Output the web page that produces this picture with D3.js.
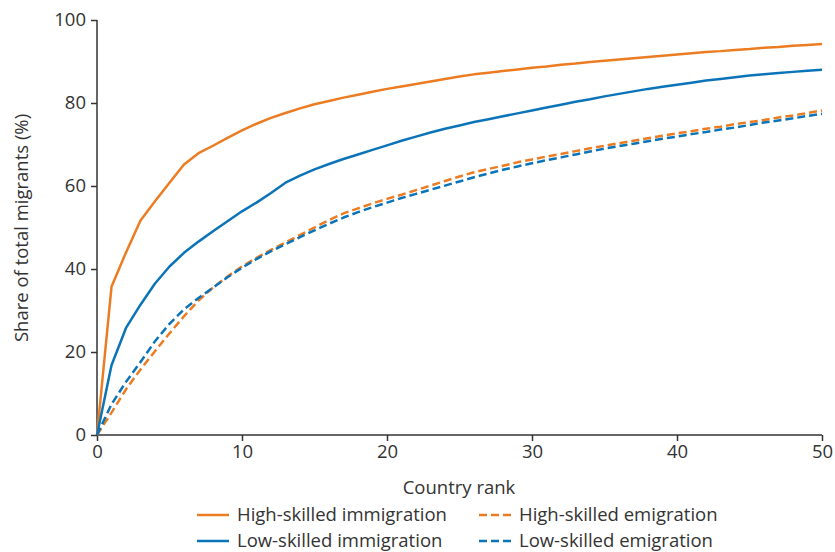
<!DOCTYPE html>
<html><head><meta charset="utf-8">
<script src="https://cdn.jsdelivr.net/npm/d3@7"></script>
<style>body{margin:0;background:#fff}svg{display:block}text{font-family:"Open Sans",sans-serif;fill:#333}</style>
</head><body><svg id="c" width="835" height="552"></svg>
<script>
const ranks = d3.range(0, 51);
const highImm = [0,35.7,44,51.7,56.3,60.8,65.2,67.9,69.7,71.6,73.4,75,76.4,77.6,78.7,79.7,80.5,81.3,82,82.7,83.4,84,84.6,85.2,85.8,86.4,86.9,87.3,87.7,88.1,88.5,88.8,89.2,89.5,89.9,90.2,90.5,90.8,91.1,91.4,91.7,92,92.3,92.5,92.8,93,93.3,93.5,93.8,94,94.2];
const lowImm = [0,16.8,25.8,31.4,36.5,40.6,43.9,46.6,49.1,51.5,53.9,56,58.3,60.8,62.5,64,65.3,66.5,67.6,68.7,69.8,70.9,71.9,72.9,73.8,74.6,75.4,76.1,76.8,77.5,78.2,78.9,79.6,80.3,80.9,81.6,82.2,82.8,83.4,83.9,84.4,84.9,85.4,85.8,86.2,86.6,86.9,87.2,87.5,87.8,88];
const highEmi = [0,5.4,11,15.8,20.2,24.5,28.6,32.4,35.5,38.2,40.6,42.7,44.6,46.4,48.2,50,51.8,53.4,54.6,55.8,56.9,57.9,59,60.1,61.2,62.3,63.3,64.1,64.9,65.7,66.4,67.1,67.7,68.4,69.1,69.7,70.3,70.9,71.5,72.1,72.7,73.2,73.8,74.3,74.9,75.4,75.9,76.5,77,77.6,78.2];
const lowEmi = [0,7.4,12.8,17.6,22.6,26.8,30.3,33,35.5,38,40.3,42.4,44.3,46,47.7,49.3,50.9,52.4,53.7,54.9,56,57.1,58.1,59.1,60.1,61.1,62.1,63,63.9,64.7,65.5,66.2,66.9,67.6,68.3,69,69.6,70.2,70.8,71.4,71.9,72.5,73,73.6,74.1,74.7,75.3,75.8,76.3,76.9,77.4];
const xTicks = [0,10,20,30,40,50];
const yTicks = [0,20,40,60,80,100];
const seriesNames = ["High-skilled immigration","High-skilled emigration","Low-skilled immigration","Low-skilled emigration"];

const ORANGE = "#EC7C22", BLUE = "#0B74B8";
const FONT = "Open Sans, sans-serif";
const FS = 18.5;
const series = [
  {name: seriesNames[0], values: highImm, color: ORANGE, dash: null},
  {name: seriesNames[2], values: lowImm, color: BLUE, dash: null},
  {name: seriesNames[1], values: highEmi, color: ORANGE, dash: "8,4"},
  {name: seriesNames[3], values: lowEmi, color: BLUE, dash: "8,4"}
];

const svg = d3.select("#c");
const x = d3.scaleLinear().domain([0,50]).range([97,822]);
const y = d3.scaleLinear().domain([0,100]).range([435,20]);

const gx = svg.append("g").attr("transform","translate(0,435)")
  .call(d3.axisBottom(x).tickValues(xTicks).tickSize(6).tickPadding(4));
const gy = svg.append("g").attr("transform","translate(97,0)")
  .call(d3.axisLeft(y).tickValues(yTicks).tickSize(6).tickPadding(5));
[gx, gy].forEach(g => {
  g.select(".domain").attr("stroke","#333").attr("stroke-width",1.5);
  g.selectAll(".tick line").attr("stroke","#333").attr("stroke-width",1.5);
  g.selectAll(".tick text").attr("font-size",FS).attr("fill","#333").style("font-family",FONT);
});
gx.select(".domain").attr("d","M97,0H822");
gy.select(".domain").attr("d","M0,20V435");

svg.append("text").attr("x",459).attr("y",494).attr("text-anchor","middle").attr("font-size",FS).text("Country rank");
svg.append("text").attr("transform","translate(28,228) rotate(-90)").attr("text-anchor","middle").attr("font-size",FS).text("Share of total migrants (%)");

const line = d3.line().x((d,i)=>x(ranks[i])).y(d=>y(d));
series.forEach(s => {
  svg.append("path").datum(s.values).attr("d",line).attr("fill","none")
    .attr("stroke",s.color).attr("stroke-width",2.5).attr("stroke-linejoin","round")
    .attr("stroke-dasharray",s.dash);
});

const legendItems = [
  {name: seriesNames[0], color: ORANGE, dash: null, lx: 197, ly: 515},
  {name: seriesNames[1], color: ORANGE, dash: "8,4", lx: 479, ly: 515},
  {name: seriesNames[2], color: BLUE, dash: null, lx: 197, ly: 541},
  {name: seriesNames[3], color: BLUE, dash: "8,4", lx: 479, ly: 541}
];
legendItems.forEach(l => {
  svg.append("line").attr("x1",l.lx).attr("x2",l.lx+32).attr("y1",l.ly).attr("y2",l.ly)
    .attr("stroke",l.color).attr("stroke-width",2.5).attr("stroke-dasharray",l.dash);
  svg.append("text").attr("x",l.lx+40).attr("y",l.ly+6).attr("font-size",FS).text(l.name);
});
</script></body></html>
